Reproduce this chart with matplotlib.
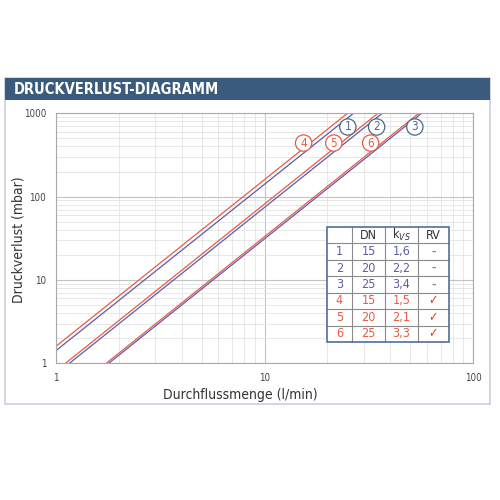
import matplotlib
matplotlib.use("Agg")
import matplotlib.pyplot as plt
from matplotlib.patches import Rectangle
from matplotlib.lines import Line2D
from matplotlib import font_manager

# ---- data ----
line_ids = ["1", "2", "3", "4", "5", "6"]
dn = [15, 20, 25, 15, 20, 25]
kvs = ["1,6", "2,2", "3,4", "1,5", "2,1", "3,3"]
rv = ["–", "–", "–", "✓", "✓", "✓"]
# line endpoints (flow l/min, pressure loss mbar)
q_start = [1.0, 1.16, 1.79, 1.0, 1.11, 1.74]
p_start = [1.42, 1.0, 1.0, 1.6, 1.0, 1.0]
q_end = [26.7, 36.7, 56.7, 25.0, 35.0, 55.0]
p_end = [1000, 1000, 1000, 1000, 1000, 1000]
label_q = [25.1, 34.5, 52.6, 15.4, 21.5, 32.3]
label_p = [685, 685, 685, 440, 440, 440]
x_ticks = [1, 10, 100]
y_ticks = [1, 10, 100, 1000]

BLUE = "#5b5ea6"
RED = "#ea5a45"
CIRC_BLUE = "#4a6888"
FRAME = "#c8d0e0"
HEAD = "#3b5b7d"
TXT = "#333333"

names = {f.name for f in font_manager.fontManager.ttflist}
narrow = "Liberation Sans Narrow" if "Liberation Sans Narrow" in names else "DejaVu Sans"
FAM = [narrow, "DejaVu Sans"]
plt.rcParams['font.family'] = FAM
plt.rcParams['font.stretch'] = 'condensed'

fig = plt.figure(figsize=(5, 5), dpi=100)
fig.patch.set_facecolor("white")

W, H = 500.0, 500.0
def fx(px): return px / W
def fy(py): return 1 - py / H

# outer frame
fig.patches.append(Rectangle((fx(4.5), fy(404)), fx(490) - fx(4.5), fy(78) - fy(404),
                             transform=fig.transFigure, fill=False, edgecolor=FRAME, lw=1.2))
# title bar
fig.patches.append(Rectangle((fx(4.5), fy(100)), fx(490) - fx(4.5), fy(78) - fy(100),
                             transform=fig.transFigure, facecolor=HEAD, edgecolor=HEAD, lw=0))
fig.text(fx(14), fy(89.5), "DRUCKVERLUST-DIAGRAMM", color="white", fontsize=10.5,
         fontweight="bold", va="center", ha="left")

ax = fig.add_axes([fx(56), fy(363.3), fx(473) - fx(56), fy(113.3) - fy(363.3)])
ax.set_xscale("log")
ax.set_yscale("log")
ax.set_xlim(1, 100)
ax.set_ylim(1, 1000)
ax.grid(True, which="major", color="#c4c4c4", lw=0.8)
ax.grid(True, which="minor", color="#e4e4e4", lw=0.6)
ax.set_axisbelow(True)
for s in ax.spines.values():
    s.set_color("#aaaaaa")
    s.set_linewidth(0.8)
ax.tick_params(which="both", length=0)
ax.set_xticks(x_ticks)
ax.set_xticklabels([str(v) for v in x_ticks])
ax.set_yticks(y_ticks)
ax.set_yticklabels([str(v) for v in y_ticks])
ax.xaxis.set_minor_formatter(plt.NullFormatter())
ax.yaxis.set_minor_formatter(plt.NullFormatter())
ax.tick_params(axis="both", labelsize=7, colors="#444444", pad=7)
ax.set_xlabel("Durchflussmenge (l/min)", fontsize=10, color=TXT)
ax.set_ylabel("Druckverlust (mbar)", fontsize=10, color=TXT)
ax.xaxis.set_label_coords((240 - 56) / (473 - 56), -(395 - 363.3) / 250)
ax.yaxis.set_label_coords(-(56 - 19) / (473 - 56), (363.3 - 240) / 250)
ax.xaxis.label.set_va("center")
ax.yaxis.label.set_va("center")

for i in range(6):
    c = BLUE if i < 3 else RED
    ax.plot([q_start[i], q_end[i]], [p_start[i], p_end[i]], color=c, lw=0.9, solid_capstyle="butt")

for i in range(6):
    c = CIRC_BLUE if i < 3 else RED
    ax.text(label_q[i], label_p[i], line_ids[i], color=c, fontsize=8.5, ha="center", va="center",
            bbox=dict(boxstyle="circle,pad=0.14", fc="white", ec=c, lw=0.9))

# ---- table ----
cols = [327, 352, 385, 418, 449]
top, bot = 227, 342
nrows = 7
rh = (bot - top) / nrows
fig.patches.append(Rectangle((fx(cols[0]), fy(bot)), fx(cols[-1]) - fx(cols[0]), fy(top) - fy(bot),
                             transform=fig.transFigure, facecolor="white", edgecolor="none"))
for r in range(1, nrows):
    y = top + r * rh
    fig.lines.append(Line2D([fx(cols[0]), fx(cols[-1])], [fy(y), fy(y)],
                            transform=fig.transFigure, color="#8a8a8a", lw=0.8))
for c in cols[1:-1]:
    fig.lines.append(Line2D([fx(c), fx(c)], [fy(top), fy(bot)],
                            transform=fig.transFigure, color="#8a8a8a", lw=0.8))
fig.patches.append(Rectangle((fx(cols[0]), fy(bot)), fx(cols[-1]) - fx(cols[0]), fy(top) - fy(bot),
                             transform=fig.transFigure, fill=False, edgecolor="#4f6f9c", lw=1.2, zorder=5))
centers = [(cols[i] + cols[i + 1]) / 2 for i in range(4)]
hy = top + rh / 2
FS = 9
fig.text(fx(centers[1]), fy(hy), "DN", fontsize=FS, ha="center", va="center", color=TXT)
fig.text(fx(centers[2]), fy(hy), r"k$_{VS}$", fontsize=FS, ha="center", va="center", color=TXT)
fig.text(fx(centers[3]), fy(hy), "RV", fontsize=FS, ha="center", va="center", color=TXT)
for i in range(6):
    c = BLUE if i < 3 else RED
    y = top + (i + 1.5) * rh
    fig.text(fx(centers[0]), fy(y), line_ids[i], fontsize=FS, ha="center", va="center", color=c)
    fig.text(fx(centers[1]), fy(y), str(dn[i]), fontsize=FS, ha="center", va="center", color=c)
    fig.text(fx(centers[2]), fy(y), kvs[i], fontsize=FS, ha="center", va="center", color=c)
    rc = "#8a8aa8" if i < 3 else "#e03a2a"
    fig.text(fx(centers[3]), fy(y), rv[i], fontsize=9 if i >= 3 else 7, ha="center", va="center",
             color=rc, fontweight="bold", family=["DejaVu Sans"])

fig.savefig("out.png", dpi=100, facecolor="white")
